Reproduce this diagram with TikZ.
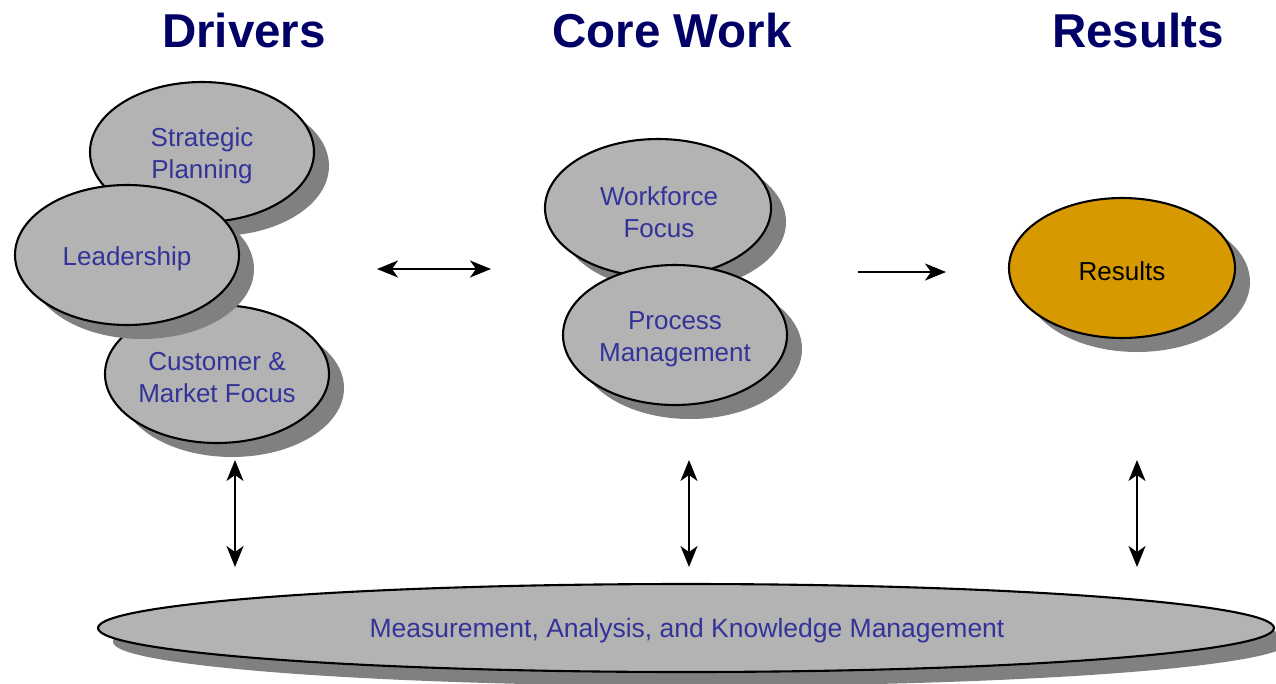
\documentclass[tikz,border=0pt]{standalone}
\usepackage{fontspec}
\setmainfont{Liberation Sans}
\usetikzlibrary{shapes.geometric,shadows,arrows.meta}
\definecolor{navy}{HTML}{000066}
\definecolor{txtblue}{HTML}{333399}
\definecolor{ellgray}{HTML}{B3B3B3}
\definecolor{shgray}{HTML}{808080}
\definecolor{gold}{HTML}{D69A00}
\tikzset{
  oval/.style={ellipse, draw=black, line width=2.1pt, fill=ellgray, inner sep=0pt,
    minimum width=224pt, minimum height=140pt,
    drop shadow={shadow xshift=15pt, shadow yshift=-14pt, fill=shgray, opacity=1}},
  lbl/.style={align=center, text=txtblue, inner sep=0pt,
    font=\fontsize{26}{32}\selectfont},
  heading/.style={text=navy, font=\fontsize{47.5}{50}\selectfont\bfseries, inner sep=0pt},
  tip/.style={Stealth[length=21pt,width=17pt,inset=6pt]},
  conn/.style={line width=2pt, {Stealth[length=21pt,width=17pt,inset=6pt]}-{Stealth[length=21pt,width=17pt,inset=6pt]}},
  conn1/.style={line width=2pt, -{Stealth[length=21pt,width=17pt,inset=6pt]}}
}
\begin{document}
\begin{tikzpicture}[x=1pt,y=-1pt]
\useasboundingbox (0,0) rectangle (1276,683);
\node[heading] (hd) at (244,31) {Drivers};
\node[heading] (hc) at (672,31) {Core Work};
\node[heading] (hr) at (1138,31) {Results};
% Drivers
\node[oval, minimum height=138pt] (cm) at (217,374) {};
\node[lbl] (cmt) at (217,378) {Customer \&\\Market Focus};
\node[oval] (sp) at (202,152) {};
\node[lbl] (spt) at (202,156) {Strategic\\Planning};
\node[oval] (ld) at (127,255) {};
\node[lbl] (ldt) at (127,259) {Leadership};
% Core work
\node[oval, minimum width=226pt, minimum height=138pt] (wf) at (658,208) {};
\node[lbl] (wft) at (659,212) {Workforce\\Focus};
\node[oval] (pm) at (675,335) {};
\node[lbl] (pmt) at (675,339) {Process\\Management};
% Results
\node[oval, minimum width=226pt, fill=gold] (rs) at (1122,268) {};
\node[lbl, text=black] (rst) at (1122,271) {Results};
% Measurement
\node[oval, minimum width=1176pt, minimum height=88pt,
  drop shadow={shadow xshift=15pt, shadow yshift=-13pt, fill=shgray, opacity=1}] (mk) at (686,628) {};
\node[lbl, font=\fontsize{26.5}{32}\selectfont] (mkt) at (687,631)
  {Measurement, Analysis, and Knowledge Management};
% connectors
\coordinate (a1) at (377,269); \coordinate (a2) at (491,269);
\coordinate (b1) at (858,272); \coordinate (b2) at (946,272);
\coordinate (v1a) at (235,460); \coordinate (v1b) at (235,567);
\coordinate (v2a) at (689,460); \coordinate (v2b) at (689,567);
\coordinate (v3a) at (1137,460); \coordinate (v3b) at (1137,567);
\draw[conn] (a1) -- (a2);
\draw[conn1] (b1) -- (b2);
\draw[conn] (v1a) -- (v1b);
\draw[conn] (v2a) -- (v2b);
\draw[conn] (v3a) -- (v3b);
\end{tikzpicture}
\end{document}
